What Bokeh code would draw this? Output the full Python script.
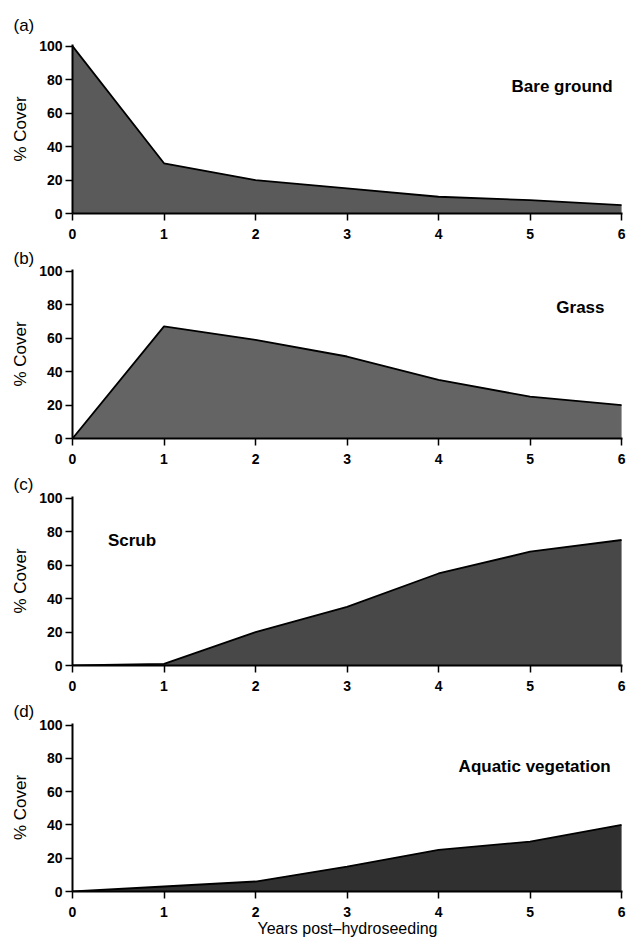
from bokeh.plotting import figure
from bokeh.layouts import column
from bokeh.models import Range1d, Label, FixedTicker
from bokeh.embed import file_html
from bokeh.resources import INLINE

years = [0, 1, 2, 3, 4, 5, 6]
bare_ground = [100, 30, 20, 15, 10, 8, 5]
grass = [0, 67, 59, 49, 35, 25, 20]
scrub = [0, 1, 20, 35, 55, 68, 75]
aquatic = [0, 3, 6, 15, 25, 30, 40]

y_ticks = [0, 20, 40, 60, 80, 100]
panel_letters = ["(a)", "(b)", "(c)", "(d)"]
series_names = ["Bare ground", "Grass", "Scrub", "Aquatic vegetation"]
series_values = [bare_ground, grass, scrub, aquatic]
name_pos = [(5.35, 76), (5.55, 78), (0.65, 75), (5.05, 75)]
fills = ["#5a5a5a", "#646464", "#484848", "#303030"]

FONT = "Liberation Sans"
tops = [44, 26, 28, 28]
title_standoffs = [19, 3, 5, 5]
bottoms = [30, 30, 30, 46]
frames = [169, 169, 169, 170]
figs = []
for i in range(4):
    last = i == 3
    p = figure(width=626, height=tops[i] + frames[i] + bottoms[i],
               output_backend="svg", toolbar_location=None,
               x_range=Range1d(0, 6.01), y_range=Range1d(0, 101),
               min_border_left=72, min_border_right=4,
               min_border_top=tops[i], min_border_bottom=bottoms[i])
    p.outline_line_color = None
    p.grid.visible = False
    p.background_fill_color = "white"
    p.border_fill_color = "white"

    p.title.text = panel_letters[i]
    p.title.align = "left"
    p.title.offset = -59
    p.title.standoff = title_standoffs[i]
    p.title.text_font = FONT
    p.title.text_font_size = "17px"
    p.title.text_font_style = "normal"
    p.title.text_color = "black"

    vals = series_values[i]
    xs = years + years[::-1]
    ys = vals + [0] * len(years)
    p.patch(xs, ys, fill_color=fills[i], line_color=None)
    p.line(years, vals, line_color="black", line_width=1.8)

    for ax in (p.xaxis[0], p.yaxis[0]):
        ax.axis_line_width = 2
        ax.axis_line_color = "black"
        ax.major_tick_line_width = 1.5
        ax.major_tick_out = 7
        ax.major_tick_in = 0
        ax.minor_tick_line_color = None
        ax.major_label_text_font = FONT
        ax.major_label_text_font_size = "14px"
        ax.major_label_text_font_style = "bold"
        ax.major_label_text_color = "black"
    p.xaxis.ticker = FixedTicker(ticks=years)
    p.yaxis.ticker = FixedTicker(ticks=y_ticks)
    p.xaxis.major_label_standoff = 8
    p.yaxis.major_label_standoff = 3
    p.yaxis.axis_label = "% Cover"
    p.yaxis.axis_label_text_font = FONT
    p.yaxis.axis_label_text_font_size = "17px"
    p.yaxis.axis_label_text_font_style = "normal"
    p.yaxis.axis_label_text_color = "black"
    p.yaxis.axis_label_standoff = 6
    if last:
        p.xaxis.axis_label = "Years post\u2013hydroseeding"
        p.xaxis.axis_label_text_font = FONT
        p.xaxis.axis_label_text_font_size = "16px"
        p.xaxis.axis_label_text_font_style = "normal"
        p.xaxis.axis_label_text_color = "black"
        p.xaxis.axis_label_standoff = 0

    nx, ny = name_pos[i]
    p.add_layout(Label(x=nx, y=ny, text=series_names[i], text_font=FONT,
                       text_font_size="17px", text_font_style="bold",
                       text_align="center", text_baseline="middle",
                       text_color="black"))
    figs.append(p)

layout = column(*figs, spacing=0)
open("out.html", "w").write(file_html(layout, INLINE))
